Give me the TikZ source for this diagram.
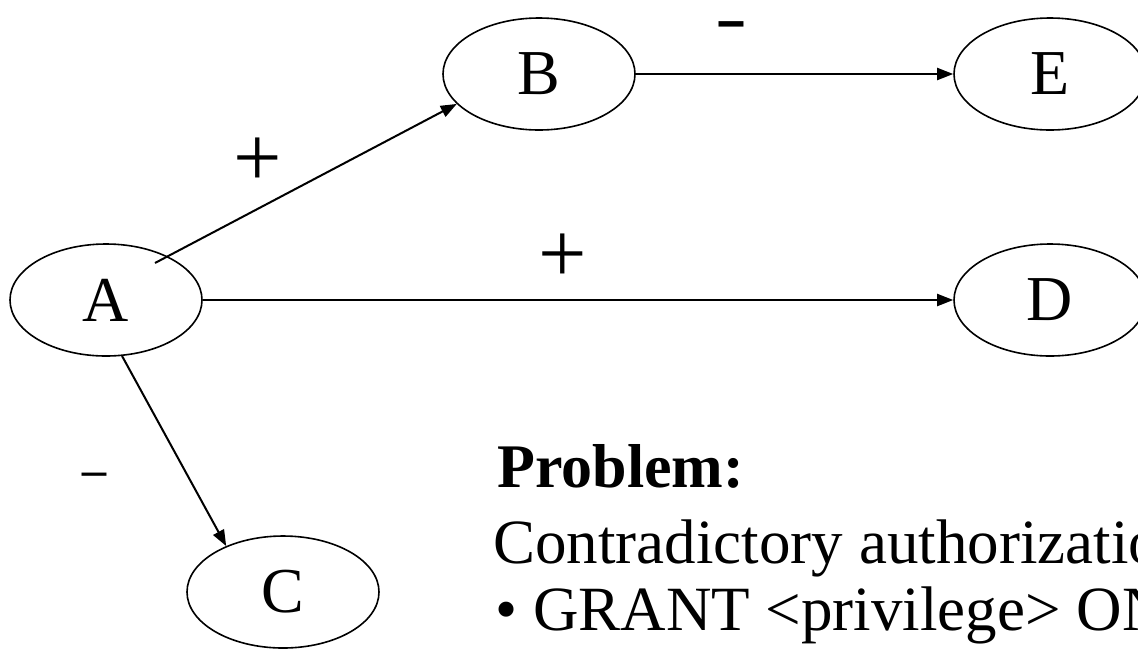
\documentclass[tikz,border=0pt]{standalone}
\usepackage{fontspec}
\setmainfont{Liberation Serif}
\usepackage{graphicx}
\usetikzlibrary{arrows.meta,shapes.geometric,calc}
\begin{document}
\begin{tikzpicture}[x=0.5pt,y=-0.5pt,
  state/.style={ellipse,draw,line width=0.8pt,minimum width=96pt,minimum height=56pt,inner sep=0pt,font=\fontsize{32}{34}\selectfont},
  conn/.style={line width=1pt,-{Triangle[length=8pt,width=6pt]}},
  sign/.style={inner sep=0pt,font=\fontsize{43}{45}\selectfont},
  minus/.style={inner sep=0pt,anchor=base,font=\fontsize{48}{50}\selectfont\bfseries},
  txt/.style={anchor=base west,inner sep=0pt,font=\fontsize{31.5}{33}\selectfont}]
\useasboundingbox (0,0) rectangle (1138,649);
\clip (0,0) rectangle (1138,649);
\node[state] (A) at (106,300) {A};
\node[state] (B) at (539,74) {B};
\node[state] (E) at (1050,74) {E};
\node[state] (D) at (1050,300) {D};
\node[state] (C) at (283,592) {C};
\coordinate (a1) at ($(A.center)+(49,-37)$);
\draw[conn] (a1) -- (B.200);
\draw[conn] (A.east) -- (D.west);
\draw[conn] (B.east) -- (E.west);
\draw[conn] (A.286) -- (C.141);
\node[sign] (p1) at (258,162) {+};
\node[sign] (p2) at (563,258) {+};
\node[minus] (m1) at (731,39) {\scalebox{1}[0.67]{-}};
\node[minus] (m2) at (94,483) {\scalebox{1}[0.39]{-}};
\node[txt,font=\fontsize{31}{33}\selectfont\bfseries] (t1) at (497,487) {Problem:};
\node[txt] (t2) at (493,563) {Contradictory authorizations};
\node[txt] (t3) at (495,630) {• GRANT <privilege> ON};
\end{tikzpicture}
\end{document}
